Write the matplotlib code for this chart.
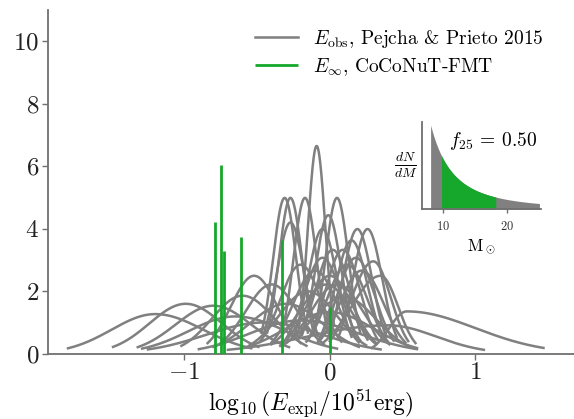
import numpy as np
import matplotlib
matplotlib.use('Agg')
import matplotlib.pyplot as plt

plt.rcParams['font.family'] = ['cmr10', 'DejaVu Serif']
plt.rcParams['mathtext.fontset'] = 'cm'
plt.rcParams['axes.formatter.use_mathtext'] = True

# observed explosion energies (log10 E / 1e51 erg): centre, lower and upper width
obs_center = [-0.09, -0.31, -0.27, -0.17, 0.05, -0.01, -0.27, 0.19, 0.26, 0.15,
              0.09, -0.05, 0.12, -0.20, 0.00, -0.52, 0.22, -0.10, -0.40, 0.05,
              -0.15, -0.60, 0.10, -0.30, -0.80, -0.99, -1.20, 0.53, 0.40, -0.45,
              -0.20, 0.00, -0.65, 0.30, -0.05, 0.35, 0.02, 0.18, -0.02]
obs_sig_lo = [0.06, 0.08, 0.08, 0.08, 0.08, 0.09, 0.095, 0.10, 0.10, 0.11,
              0.12, 0.13, 0.14, 0.14, 0.16, 0.16, 0.15, 0.15, 0.18, 0.18,
              0.20, 0.21, 0.22, 0.25, 0.26, 0.25, 0.30, 0.12, 0.55, 0.40,
              0.35, 0.30, 0.32, 0.15, 0.10, 0.20, 0.12, 0.13, 0.19]
obs_sig_hi = [0.06, 0.08, 0.08, 0.08, 0.08, 0.09, 0.095, 0.10, 0.10, 0.11,
              0.12, 0.13, 0.14, 0.14, 0.16, 0.16, 0.15, 0.15, 0.18, 0.18,
              0.20, 0.22, 0.22, 0.25, 0.26, 0.25, 0.33, 0.47, 0.33, 0.40,
              0.40, 0.30, 0.35, 0.12, 0.10, 0.12, 0.12, 0.13, 0.17]

# CoCoNuT-FMT model energies and their histogram heights
model_x = [-0.79, -0.745, -0.724, -0.608, -0.326, 0.0]
model_h = [4.22, 6.03, 3.27, 3.75, 3.64, 1.49]

# inset IMF
imf_lo, imf_hi = 8, 25
sel_lo, sel_hi = 9.7, 18.2
imf_slope = 2.35
f25 = 0.50

gray = '#808080'
green = '#16a82c'
spine = '#707070'

fig = plt.figure(figsize=(5.74, 4.19), dpi=100)
ax = fig.add_axes([0.083, 0.156, 0.917, 0.820])

for i, (c, sl, sr) in enumerate(zip(obs_center, obs_sig_lo, obs_sig_hi)):
    x = np.linspace(c - 2 * sl, c + 2 * sr, 200)
    s = np.where(x < c, sl, sr)
    y = np.sqrt(2 / np.pi) / (sl + sr) * np.exp(-0.5 * ((x - c) / s) ** 2)
    ax.plot(x, y, color=gray, lw=1.8,
            label=r'$E_{\rm obs}$, Pejcha & Prieto 2015' if i == 0 else None)

ax.vlines(model_x, 0, model_h, color=green, lw=2, zorder=5,
          label=r'$E_\infty$, CoCoNuT-FMT')

ax.set_xlim(-1.94, 1.68)
ax.set_ylim(0, 11)
ax.set_xticks([-1, 0, 1])
ax.set_yticks([0, 2, 4, 6, 8, 10])
ax.set_xlabel(r'$\log_{10}(E_{\rm expl}/10^{51}{\rm erg})$', fontsize=17, labelpad=2)
for side in ['top', 'right']:
    ax.spines[side].set_visible(False)
for side in ['left', 'bottom']:
    ax.spines[side].set_color(spine)
    ax.spines[side].set_linewidth(1.3)
ax.tick_params(direction='out', length=4, width=1, color=spine,
               labelsize=18, labelcolor='#222222', pad=2)

ax.legend(loc='upper left', bbox_to_anchor=(255 / 574, 1 - 28 / 419),
          bbox_transform=fig.transFigure, frameon=False, fontsize=14,
          handlelength=2.2, handletextpad=0.8, borderpad=0, borderaxespad=0,
          labelspacing=0.3)

# inset
ins = fig.add_axes([0.7357, 0.5005, 0.2063, 0.209])
m = np.linspace(imf_lo, imf_hi, 300)
dndm = m ** -imf_slope
ins.fill_between(m, 0, dndm, color=gray, lw=0)
ms = (m >= sel_lo) & (m <= sel_hi)
ins.fill_between(m[ms], 0, dndm[ms], color=green, lw=0)
ins.set_xlim(6.7, 25.2)
ins.set_ylim(0, imf_lo ** -imf_slope * 1.04)
ins.set_xticks([10, 20])
ins.set_yticks([])
for side in ['top', 'right']:
    ins.spines[side].set_visible(False)
for side in ['left', 'bottom']:
    ins.spines[side].set_color(spine)
    ins.spines[side].set_linewidth(1.3)
ins.tick_params(direction='out', length=3, width=1, color=spine,
                labelsize=9, labelcolor='#333333', pad=5)
ins.set_xlabel(r'M$_\odot$', fontsize=12, labelpad=3)
ins.set_ylabel(r'$\frac{dN}{dM}$', fontsize=14, rotation=0, labelpad=12, va='center')
ins.text(0.97, 0.78, r'$f_{25}$ = ' + f'{f25:.2f}', transform=ins.transAxes,
         ha='right', va='center', fontsize=14)

fig.savefig('out.png', dpi=100)
